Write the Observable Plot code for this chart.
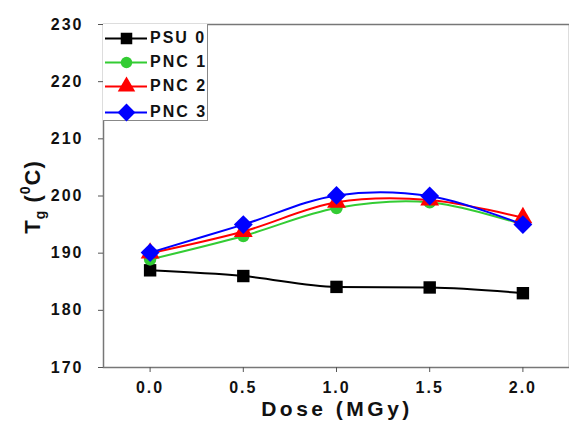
<!DOCTYPE html>
<html>
<head>
<meta charset="utf-8">
<script src="https://cdn.jsdelivr.net/npm/d3@7"></script>
<script src="https://cdn.jsdelivr.net/npm/@observablehq/plot@0.6"></script>
<style>
  html, body { margin: 0; padding: 0; background: #fff; }
  #wrap { position: relative; width: 569px; height: 423px; font-family: "Liberation Sans", Arial, sans-serif; }
  #legend { position: absolute; left: 103px; top: 24px; width: 105px; height: 97px; border: 1px solid #888; border-left: none; border-top: none; box-sizing: border-box; background: #fff; }
  .lg { position: absolute; left: 2px; height: 20px; display: flex; align-items: center; white-space: nowrap; }
  .lg svg { flex: none; }
  .lg span { font-weight: bold; font-size: 16px; letter-spacing: 2px; color: #111; margin-left: 3px; white-space: nowrap; }
  #ytitle { position: absolute; left: 32px; top: 197px; transform: translate(-50%, -50%) rotate(-90deg); white-space: nowrap; font-weight: bold; font-size: 22px; letter-spacing: 1px; line-height: 1; color: #111; }
  #ytitle sub { font-size: 14px; vertical-align: -5px; }
  #ytitle sup { font-size: 14px; vertical-align: 10px; }
  #xtitle { position: absolute; left: 337px; top: 408px; transform: translate(-50%, -50%); white-space: nowrap; font-weight: bold; font-size: 21px; letter-spacing: 3.5px; line-height: 1; color: #111; }
</style>
</head>
<body>
<div id="wrap"></div>
<script>
const doses = [0.0, 0.5, 1.0, 1.5, 2.0];
const seriesNames = ["PSU 0", "PNC 1", "PNC 2", "PNC 3"];
const psu0 = [187.0, 186.0, 184.1, 184.0, 183.0];
const pnc1 = [188.9, 193.0, 197.9, 198.9, 195.0];
const pnc2 = [190.0, 193.8, 198.9, 199.3, 196.2];
const pnc3 = [190.1, 195.0, 200.1, 200.0, 195.0];
const yTicks = [170, 180, 190, 200, 210, 220, 230];
const xTicks = [0.0, 0.5, 1.0, 1.5, 2.0];
const colors = ["#000000", "#33cc33", "#ff0000", "#0000ff"];
const symbols = ["square", "circle", "triangle", "diamond2"];
const radii = [7, 6.2, 7, 8.5];

const allValues = [psu0, pnc1, pnc2, pnc3];
const rows = [];
seriesNames.forEach((s, i) => doses.forEach((d, j) => rows.push({series: s, dose: d, tg: allValues[i][j]})));

const marks = [
  Plot.frame({stroke: "#777", strokeWidth: 1.5}),
  Plot.axisY({ticks: yTicks, tickSize: 5, tickFormat: d => d, fontSize: 16, fontWeight: "bold", fill: "#111", stroke: "#555", tickPadding: 15, label: null}),
  Plot.axisX({ticks: xTicks, tickSize: 5, tickFormat: d => d.toFixed(1), fontSize: 16, fontWeight: "bold", fill: "#111", stroke: "#555", tickPadding: 9, label: null})
];
seriesNames.forEach((s, i) => {
  const data = rows.filter(r => r.series === s);
  marks.push(Plot.line(data, {x: "dose", y: "tg", stroke: colors[i], strokeWidth: 2, curve: i === 0 ? "monotone-x" : "catmull-rom"}));
  marks.push(Plot.dot(data, {x: "dose", y: "tg", fill: colors[i], stroke: "none", symbol: symbols[i], r: radii[i]}));
});

const chart = Plot.plot({
  width: 569,
  height: 423,
  marginLeft: 103,
  marginRight: 0,
  marginTop: 24,
  marginBottom: 56,
  style: {fontFamily: "'Liberation Sans', Arial, sans-serif", color: "#111", letterSpacing: "2px", background: "#fff"},
  x: {domain: [-0.25, 2.25]},
  y: {domain: [170, 230]},
  marks
});
const wrap = document.getElementById("wrap");
wrap.appendChild(chart);

// Legend
const legend = document.createElement("div");
legend.id = "legend";
const tops = [4, 28, 52, 78];
seriesNames.forEach((s, i) => {
  const row = document.createElement("div");
  row.className = "lg";
  row.style.top = tops[i] + "px";
  const sw = Plot.plot({
    width: 42, height: 20, margin: 0,
    x: {domain: [0, 1], axis: null}, y: {domain: [0, 1], axis: null},
    marks: [
      Plot.ruleY([0.5], {x1: 0, x2: 1, stroke: colors[i], strokeWidth: 2}),
      Plot.dot([0.5], {x: d => d, y: 0.5, fill: colors[i], symbol: symbols[i], r: radii[i] - 0.5})
    ]
  });
  row.appendChild(sw);
  const t = document.createElement("span");
  t.textContent = s;
  row.appendChild(t);
  legend.appendChild(row);
});
wrap.appendChild(legend);

const yt = document.createElement("div");
yt.id = "ytitle";
yt.innerHTML = "T<sub>g</sub> (<sup>0</sup>C)";
wrap.appendChild(yt);

const xt = document.createElement("div");
xt.id = "xtitle";
xt.textContent = "Dose (MGy)";
wrap.appendChild(xt);
</script>
</body>
</html>
